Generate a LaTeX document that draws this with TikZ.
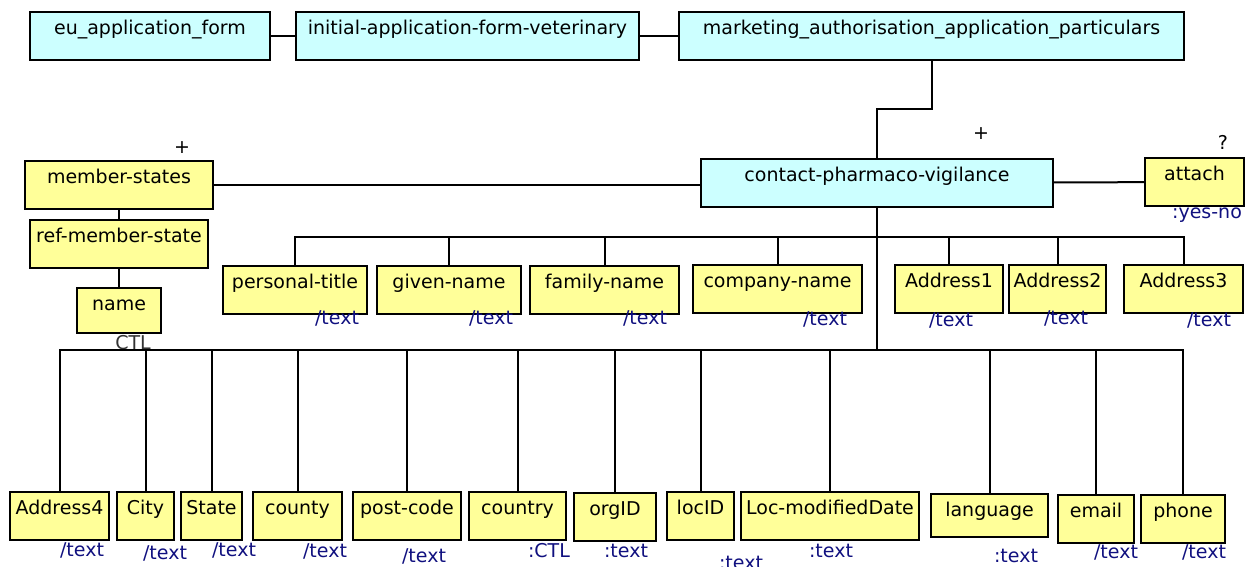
\documentclass[tikz,border=0pt]{standalone}
\usepackage{fontspec}
\setmainfont{DejaVu Sans}
\usepackage{xcolor}
\usepackage{tikz}
\definecolor{cyanbox}{HTML}{CCFFFF}
\definecolor{yellowbox}{HTML}{FFFF99}
\definecolor{typeblue}{HTML}{10107F}

\begin{document}
\begin{tikzpicture}[x=1pt,y=-1pt,font=\fontsize{19}{22}\selectfont,
    cls/.style={draw,line width=2pt,fill=cyanbox,anchor=north west,outer sep=0pt,inner xsep=3pt,inner ysep=0pt,text height=22pt,text depth=26pt},
    fld/.style={cls,fill=yellowbox},
    typ/.style={text=typeblue,inner sep=0pt},
    occur/.style={inner sep=0pt},
    link/.style={line width=2pt}]
        \useasboundingbox (0,0) rectangle (1252,566);
        % Top row
        \node[cls,minimum width=240pt] (eu) at (30,12) {eu\_application\_form};
        \node[cls,minimum width=343pt] (initial) at (296,12) {initial-application-form-veterinary};
        \node[cls,minimum width=505pt] (mkt) at (679,12) {marketing\_authorisation\_application\_particulars};
        \draw[link] (eu) -- (initial);
        \draw[link] (initial) -- (mkt);
        % Contact and its neighbours
        \node[cls,minimum width=352pt] (contact) at (701,159) {contact-pharmaco-vigilance};
        \node[occur] (contactocc) at (981,134) {+};
        \coordinate (mk) at (877,109);
        \draw[link] (mkt.south) |- (mk) -- (contact.north);
        \node[fld,minimum width=99pt] (attach) at (1145,158) {attach};
        \node[occur] (attachocc) at (1223,142) {?};
        \node[typ] (attachtyp) at (1207,215) {:yes-no};
        \draw[link] (contact) -- (attach);
        \node[fld,minimum width=188pt] (mstates) at (25,161) {member-states};
        \node[occur] (mstatesocc) at (182,148) {+};
        \draw[link] (mstates.east) -- (mstates.east -| contact.west);
        \node[fld,minimum width=178pt] (refms) at (30,220) {ref-member-state};
        \node[fld,minimum width=84pt,text depth=23pt] (name) at (77,288) {name};
        \node[occur,text=black!80] (nametyp) at (133,343) {CTL};
        \draw[link] (mstates) -- (refms);
        \draw[link] (refms) -- (name);
        % First level of fields
        \node[fld,minimum width=144pt] (ptitle) at (223,266) {personal-title};
        \node[fld,minimum width=144pt] (gname) at (377,266) {given-name};
        \node[fld,minimum width=149pt] (fname) at (530,266) {family-name};
        \node[fld,minimum width=169pt] (cname) at (693,265) {company-name};
        \node[fld,minimum width=108pt] (addr1) at (895,265) {Address1};
        \node[fld,minimum width=97pt] (addr2) at (1009,265) {Address2};
        \node[fld,minimum width=119pt] (addr3) at (1124,265) {Address3};
        \node[typ] at (337,318) {/text};
        \node[typ] at (491,318) {/text};
        \node[typ] at (645,318) {/text};
        \node[typ] at (825,319) {/text};
        \node[typ] at (951,320) {/text};
        \node[typ] at (1066,318) {/text};
        \node[typ] at (1209,320) {/text};
        \coordinate (tb) at (877,237);
        \draw[link] (contact.south) -- (tb);
        \foreach \c in {ptitle,gname,fname,cname,addr1,addr2,addr3}
          \draw[link] (tb) -| (\c.north);
        % Second level of fields
        \node[fld,minimum width=99pt] (addr4) at (10,492) {Address4};
        \node[fld,minimum width=57pt] (city) at (117,492) {City};
        \node[fld,minimum width=61pt] (state) at (181,492) {State};
        \node[fld,minimum width=89pt] (county) at (253,492) {county};
        \node[fld,minimum width=108pt] (postcode) at (353,492) {post-code};
        \node[fld,minimum width=97pt] (country) at (469,492) {country};
        \node[fld,minimum width=82pt] (orgid) at (574,493) {orgID};
        \node[fld,minimum width=67pt] (locid) at (667,492) {locID};
        \node[fld,minimum width=178pt] (locmod) at (741,492) {Loc-modifiedDate};
        \node[fld,minimum width=117pt,text depth=21pt] (language) at (931,494) {language};
        \node[fld,minimum width=76pt] (email) at (1058,495) {email};
        \node[fld,minimum width=84pt] (phone) at (1141,495) {phone};
        \node[typ] at (82,550) {/text};
        \node[typ] at (165,553) {/text};
        \node[typ] at (234,550) {/text};
        \node[typ] at (325,551) {/text};
        \node[typ] at (424,556) {/text};
        \node[typ] at (549,551) {:CTL};
        \node[typ] at (626,551) {:text};
        \node[typ] at (741,563) {:text};
        \node[typ] at (831,551) {:text};
        \node[typ] at (1016,556) {:text};
        \node[typ] at (1116,552) {/text};
        \node[typ] at (1204,552) {/text};
        \coordinate (bb) at (877,350);
        \draw[line width=2.8pt] (contact.south) -- (bb);
        \foreach \c in {addr4,city,state,county,postcode,country,orgid,locid,locmod,language,email,phone}
          \draw[link] (bb) -| (\c.north);
      \end{tikzpicture}
\end{document}
